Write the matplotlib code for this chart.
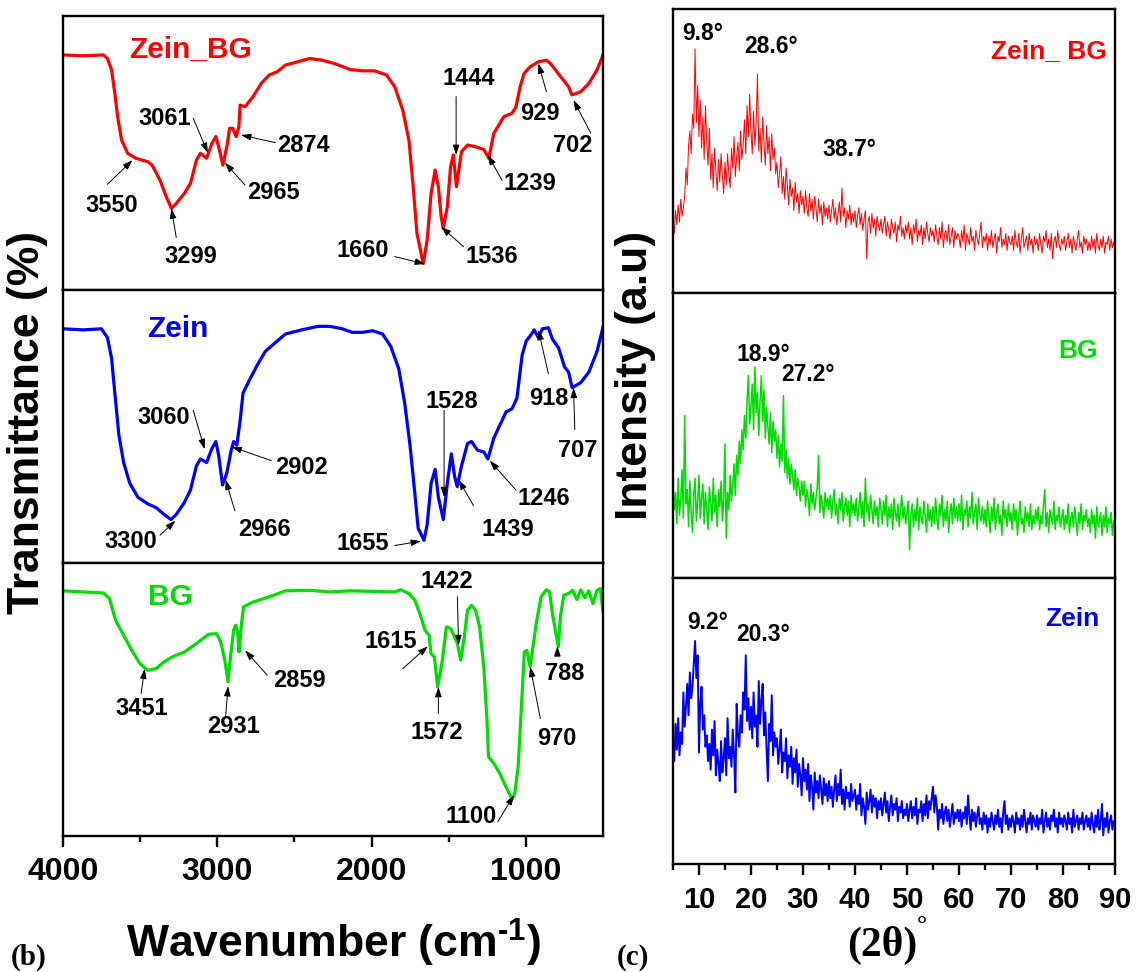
import numpy as np
import matplotlib
matplotlib.use('Agg')
import matplotlib.pyplot as plt
from matplotlib.ticker import FixedLocator

# ---------------- FTIR data (wavenumber cm-1, transmittance a.u.) ----------------
zbg_wn = [4000, 3870, 3738, 3712, 3685, 3664, 3646, 3620, 3581, 3528, 3449, 3423, 3371, 3331,
          3297, 3266, 3213, 3174, 3135, 3109, 3069, 3035, 3009, 2991, 2964, 2938, 2920, 2899,
          2878, 2860, 2852, 2820, 2768, 2715, 2663, 2610, 2558, 2479, 2401, 2322, 2243, 2139,
          2060, 1981, 1903, 1850, 1798, 1758, 1732, 1706, 1665, 1640, 1614, 1588, 1567, 1549,
          1536, 1509, 1488, 1470, 1450, 1417, 1378, 1326, 1273, 1240, 1208, 1169, 1142, 1090,
          1064, 1037, 1011, 972, 919, 867, 841, 775, 723, 702, 644, 592, 539, 500]
zbg_tr = [85.8, 85.5, 85.8, 84.5, 80.3, 71.8, 63.3, 54.7, 49.9, 48.1, 46.8, 45.6, 40.1, 34.1,
          29.8, 31.6, 35.3, 38.9, 47.4, 49.9, 48.1, 53.5, 56.0, 52.3, 45.6, 52.3, 59.0, 59.0,
          56.0, 59.6, 67.5, 66.9, 70.6, 75.4, 78.5, 79.7, 82.1, 83.3, 84.5, 83.9, 82.7, 80.5,
          80.0, 80.0, 78.5, 74.2, 65.7, 54.7, 38.9, 20.7, 9.7, 18.2, 35.3, 43.8, 37.7, 26.8,
          22.5, 30.4, 45.0, 49.3, 37.7, 50.5, 52.9, 52.3, 51.3, 48.1, 57.2, 60.8, 63.3, 64.5,
          66.9, 74.2, 79.1, 81.5, 83.3, 83.9, 82.7, 77.9, 74.2, 71.2, 72.4, 75.4, 80.3, 85.8]

zein_wn = [4000, 3869, 3751, 3712, 3685, 3664, 3638, 3607, 3567, 3515, 3449, 3397, 3345, 3300,
           3266, 3213, 3174, 3135, 3109, 3069, 3035, 3009, 2991, 2966, 2938, 2912, 2894, 2873,
           2852, 2833, 2794, 2742, 2689, 2637, 2558, 2453, 2348, 2270, 2191, 2125, 2060, 1994,
           1929, 1876, 1824, 1785, 1751, 1724, 1698, 1660, 1640, 1614, 1588, 1567, 1535, 1509,
           1483, 1462, 1445, 1417, 1378, 1352, 1313, 1273, 1246, 1208, 1182, 1155, 1129, 1090,
           1058, 1024, 998, 972, 946, 919, 893, 854, 828, 788, 749, 723, 700, 644, 592, 539, 500]
zein_tr = [85.8, 85.4, 85.8, 82.6, 75.0, 62.3, 47.0, 36.8, 29.2, 24.1, 21.6, 20.3, 17.8, 15.9,
           17.8, 22.2, 26.7, 35.6, 38.1, 36.8, 41.9, 44.5, 39.4, 28.6, 33.0, 40.7, 44.5, 43.2,
           52.1, 62.3, 66.7, 72.4, 77.5, 80.1, 83.9, 85.4, 86.7, 86.7, 85.8, 84.5, 84.5, 85.1,
           83.9, 79.4, 71.2, 58.4, 43.2, 28.0, 12.7, 8.3, 14.0, 29.2, 34.3, 24.1, 15.9, 29.2,
           40.0, 31.8, 28.0, 35.6, 43.8, 44.5, 41.3, 40.7, 38.1, 45.7, 48.9, 52.1, 55.3, 56.5,
           60.4, 76.2, 81.3, 83.2, 85.4, 82.6, 85.8, 86.2, 82.0, 78.8, 71.8, 69.9, 64.2, 66.1,
           69.9, 77.5, 86.4]

bg_wn = [4000, 3738, 3699, 3659, 3607, 3554, 3502, 3451, 3397, 3345, 3292, 3213, 3135, 3056,
         3004, 2978, 2951, 2931, 2912, 2894, 2880, 2868, 2859, 2845, 2830, 2768, 2663, 2558,
         2401, 2270, 2139, 1981, 1850, 1811, 1758, 1719, 1680, 1654, 1627, 1615, 1593, 1572,
         1541, 1515, 1488, 1462, 1444, 1422, 1399, 1378, 1352, 1326, 1300, 1273, 1252, 1242,
         1208, 1169, 1129, 1103, 1090, 1072, 1050, 1030, 1010, 994, 972, 954, 933, 901, 867,
         846, 828, 790, 775, 754, 723, 697, 670, 644, 618, 592, 565, 539, 518, 500]
bg_tr = [89.8, 89.0, 87.0, 79.0, 73.5, 68.0, 63.2, 60.7, 61.3, 63.8, 65.6, 67.4, 70.5, 73.9,
         74.1, 71.1, 64.4, 56.5, 66.8, 75.4, 77.2, 74.8, 67.4, 76.6, 83.9, 85.7, 87.6, 89.8,
         90.0, 89.4, 89.8, 89.6, 89.4, 90.2, 88.8, 86.3, 80.2, 75.4, 73.5, 66.8, 65.6, 54.6,
         64.4, 76.6, 76.0, 72.9, 70.5, 64.4, 72.9, 82.7, 84.5, 82.7, 76.6, 62.0, 42.4, 29.0,
         26.6, 22.9, 18.0, 15.0, 13.4, 15.6, 25.4, 46.1, 67.4, 68.0, 62.0, 69.3, 77.8, 87.6,
         90.2, 89.4, 81.5, 69.3, 80.9, 88.2, 88.8, 90.0, 86.6, 90.2, 87.3, 89.8, 85.1, 90.0,
         90.6, 82.1]

# peak labels: (label, tip_wn, tip_T, tail_wn, tail_T, text_wn, text_T)
zbg_peaks = [("3550", 3549, 47.4, 3712, 38.6, 3685, 31.0),
             ("3299", 3297, 29.8, 3266, 19.2, 3174, 12.2),
             ("3061", 3061, 50.1, 3156, 62.7, 3339, 62.7),
             ("2965", 2951, 46.5, 2820, 38.3, 2637, 35.5),
             ("2874", 2846, 56.6, 2624, 53.8, 2440, 52.9),
             ("1444", 1452, 49.3, 1452, 70.6, 1370, 77.3),
             ("1239", 1247, 49.3, 1155, 40.1, 972, 38.9),
             ("929", 919, 82.7, 867, 72.4, 906, 64.5),
             ("702", 691, 69.3, 579, 57.2, 697, 52.9),
             ("1660", 1654, 9.5, 1850, 12.2, 2055, 14.6),
             ("1536", 1549, 23.1, 1404, 15.8, 1221, 12.2)]
zein_peaks = [("3060", 3082, 41.7, 3156, 55.9, 3345, 53.4),
              ("2902", 2907, 42.6, 2650, 37.5, 2453, 34.9),
              ("2966", 2946, 30.5, 2886, 19.1, 2694, 12.1),
              ("3300", 3271, 15.5, 3371, 10.2, 3560, 7.9),
              ("1655", 1680, 8.0, 1850, 6.4, 2060, 7.0),
              ("1528", 1530, 24.1, 1530, 55.9, 1483, 59.1),
              ("1439", 1436, 30.5, 1339, 21.0, 1116, 12.1),
              ("1246", 1234, 37.5, 1064, 26.7, 885, 23.5),
              ("918", 919, 85.4, 854, 69.3, 854, 60.4),
              ("707", 691, 64.2, 683, 48.9, 665, 41.3)]
bg_peaks = [("3451", 3470, 61.3, 3494, 52.2, 3489, 46.7),
            ("2931", 2930, 54.9, 2946, 43.7, 2894, 40.0),
            ("2859", 2820, 68.0, 2676, 58.9, 2466, 56.8),
            ("1615", 1635, 69.5, 1798, 61.3, 1876, 71.1),
            ("1422", 1436, 69.9, 1444, 87.6, 1509, 93.4),
            ("1572", 1567, 54.6, 1567, 44.9, 1575, 37.8),
            ("1100", 1077, 15.0, 1182, 5.2, 1357, 7.1),
            ("970", 972, 62.0, 906, 43.0, 802, 35.7),
            ("788", 796, 69.5, 796, 66.2, 749, 59.5)]

# ---------------- XRD data (2theta 5..90, step 0.25, intensity a.u.) ----------------
xrd_zbg = [26, 21, 29, 24, 31, 25, 33, 27, 30, 34, 44, 38, 52, 57, 49, 63, 58, 86, 60, 73,
           55, 68, 51, 62, 47, 66, 53, 45, 58, 40, 49, 37, 51, 43, 36, 47, 39, 49, 41, 35,
           46, 38, 49, 42, 37, 51, 44, 55, 41, 48, 53, 43, 57, 47, 52, 61, 49, 66, 55, 70,
           57, 49, 64, 52, 60, 77, 50, 58, 46, 62, 53, 45, 59, 49, 55, 43, 56, 47, 51, 42,
           46, 37, 42, 48, 35, 41, 33, 44, 38, 31, 40, 34, 37, 29, 39, 32, 35, 28, 36, 31,
           34, 28, 36, 30, 27, 35, 29, 33, 26, 34, 30, 25, 33, 28, 31, 24, 32, 27, 30, 26,
           31, 25, 29, 33, 26, 30, 24, 28, 32, 25, 37, 27, 30, 23, 29, 26, 31, 24, 28, 25,
           29, 23, 27, 30, 24, 28, 22, 26, 29, 12, 25, 27, 21, 28, 23, 26, 20, 27, 24, 22,
           26, 21, 24, 27, 20, 25, 22, 19, 26, 23, 21, 25, 18, 24, 22, 27, 20, 23, 19, 24,
           21, 25, 19, 23, 17, 24, 21, 26, 18, 22, 20, 24, 17, 23, 19, 25, 21, 18, 23, 20,
           22, 18, 24, 20, 17, 23, 19, 25, 16, 21, 22, 18, 24, 17, 20, 23, 16, 22, 19, 21,
           20, 16, 22, 18, 24, 15, 21, 19, 17, 23, 18, 20, 15, 22, 19, 17, 21, 25, 16, 20,
           18, 21, 15, 20, 17, 22, 16, 19, 21, 14, 20, 18, 23, 16, 19, 17, 21, 15, 20, 18,
           17, 20, 15, 22, 18, 16, 21, 14, 19, 23, 16, 18, 20, 15, 21, 17, 19, 14, 20, 17,
           19, 15, 21, 17, 14, 20, 18, 22, 16, 19, 15, 21, 12, 18, 20, 16, 22, 17, 15, 19,
           17, 20, 15, 18, 21, 16, 19, 14, 20, 17, 15, 19, 22, 16, 18, 14, 20, 17, 19, 15,
           18, 15, 20, 16, 19, 14, 21, 17, 15, 19, 16, 20, 14, 18, 17, 20, 15, 19, 16, 18,
           17]
xrd_bg = [33, 24, 30, 19, 35, 22, 28, 38, 21, 57, 26, 31, 18, 34, 23, 16, 29, 35, 20, 27,
          36, 21, 28, 33, 19, 30, 24, 17, 32, 26, 20, 35, 23, 29, 18, 31, 25, 34, 20, 28,
          47, 14, 30, 24, 36, 27, 33, 40, 29, 43, 36, 48, 40, 52, 45, 57, 49, 62, 71, 54,
          60, 68, 52, 74, 58, 65, 50, 62, 71, 55, 66, 49, 60, 53, 47, 58, 44, 55, 48, 52,
          42, 50, 39, 47, 41, 64, 37, 45, 35, 42, 33, 40, 36, 31, 38, 29, 35, 32, 27, 34,
          29, 34, 25, 31, 28, 22, 33, 26, 30, 24, 28, 32, 43, 23, 29, 26, 21, 30, 25, 28,
          24, 29, 21, 27, 31, 22, 26, 19, 28, 24, 30, 20, 25, 28, 22, 27, 18, 29, 23, 26,
          22, 28, 20, 25, 30, 21, 27, 18, 35, 23, 26, 20, 29, 24, 19, 27, 22, 25, 18, 28,
          24, 19, 27, 22, 29, 18, 25, 21, 26, 17, 28, 23, 20, 26, 18, 24, 29, 21, 25, 19,
          23, 27, 10, 22, 26, 18, 24, 20, 28, 17, 25, 21, 19, 27, 22, 16, 26, 20, 24, 18,
          25, 19, 28, 21, 17, 26, 22, 29, 18, 24, 20, 27, 16, 23, 26, 19, 28, 21, 25, 20,
          26, 20, 29, 17, 24, 22, 27, 18, 25, 21, 30, 19, 23, 26, 17, 28, 22, 20, 25, 19,
          24, 18, 27, 21, 16, 25, 20, 28, 17, 23, 26, 19, 22, 15, 27, 21, 24, 18, 26, 20,
          23, 17, 26, 20, 24, 15, 22, 27, 19, 21, 16, 25, 20, 23, 18, 26, 17, 22, 19, 24,
          20, 25, 17, 22, 19, 26, 31, 18, 23, 16, 24, 21, 19, 27, 17, 22, 20, 25, 18, 21,
          24, 17, 22, 19, 26, 16, 21, 23, 18, 25, 20, 15, 23, 19, 26, 17, 22, 20, 24, 18,
          21, 16, 24, 19, 22, 14, 25, 18, 20, 23, 15, 22, 18, 25, 16, 21, 19, 23, 15, 20,
          17]
xrd_zein = [44, 36, 49, 40, 51, 38, 46, 42, 60, 48, 55, 63, 52, 67, 58, 62, 70, 78, 65, 73,
            39, 56, 62, 47, 52, 41, 45, 36, 42, 33, 47, 38, 50, 31, 40, 35, 29, 43, 32, 37,
            44, 31, 51, 37, 41, 34, 47, 38, 25, 56, 45, 41, 52, 46, 60, 54, 73, 50, 58, 47,
            55, 44, 60, 48, 52, 41, 64, 49, 57, 63, 45, 53, 40, 29, 49, 43, 59, 38, 46, 41,
            44, 35, 40, 47, 32, 39, 36, 44, 30, 38, 34, 41, 28, 37, 32, 40, 27, 35, 31, 24,
            37, 29, 33, 26, 35, 22, 31, 27, 19, 32, 25, 29, 23, 31, 26, 21, 30, 24, 28, 22,
            29, 23, 27, 20, 26, 31, 22, 28, 24, 33, 21, 26, 19, 27, 23, 25, 20, 28, 22, 24,
            26, 19, 24, 21, 28, 17, 23, 20, 14, 25, 19, 22, 26, 18, 24, 20, 23, 16, 22, 19,
            23, 17, 21, 25, 18, 22, 15, 20, 24, 17, 21, 19, 23, 15, 20, 18, 22, 16, 19, 17,
            21, 15, 19, 22, 16, 20, 17, 23, 14, 19, 18, 22, 15, 21, 17, 24, 16, 22, 19, 23,
            27, 18, 24, 20, 12, 19, 16, 21, 14, 18, 20, 15, 19, 13, 17, 21, 14, 18, 16, 19,
            15, 19, 13, 18, 16, 20, 14, 24, 17, 12, 19, 15, 18, 13, 17, 20, 14, 16, 12, 18,
            14, 17, 11, 16, 13, 18, 15, 12, 17, 14, 19, 13, 16, 11, 18, 22, 14, 17, 12, 16,
            13, 17, 15, 11, 18, 14, 16, 12, 17, 13, 19, 15, 11, 16, 14, 18, 12, 17, 15, 13,
            17, 12, 16, 14, 19, 11, 15, 18, 13, 16, 12, 17, 15, 19, 13, 16, 11, 18, 14, 16,
            13, 17, 15, 12, 18, 14, 16, 11, 19, 13, 15, 17, 12, 16, 14, 18, 12, 15, 17, 13,
            16, 12, 18, 14, 11, 17, 13, 19, 12, 15, 21, 10, 16, 13, 18, 11, 15, 17, 12, 15,
            14]
zbg_xrd_labels = [("9.8°", 10.8, 91.5), ("28.6°", 23.9, 86.9), ("38.7°", 39.0, 50.5)]
bg_xrd_labels = [("18.9°", 22.3, 78.4), ("27.2°", 31.0, 71.3)]
zein_xrd_labels = [("9.2°", 11.7, 84.5), ("20.3°", 22.3, 80.4)]

# ---------------- style ----------------
RED, BLUE, GREEN = '#FF0000', '#0000FF', '#00DD00'
SANS = ['Liberation Sans', 'DejaVu Sans']
SERIF = ['Liberation Serif', 'DejaVu Serif']
plt.rcParams['font.family'] = SANS
plt.rcParams['mathtext.fontset'] = 'custom'
plt.rcParams['mathtext.rm'] = 'Liberation Sans:bold'
plt.rcParams['mathtext.default'] = 'rm'

fig = plt.figure(figsize=(11.41, 9.72), dpi=100)


def style_axes(ax, bottom):
    for s in ax.spines.values():
        s.set_linewidth(1.7)
    ax.set_yticks([])
    if not bottom:
        ax.tick_params(axis='x', which='both', bottom=False, labelbottom=False)


def ftir_panel(rect, wn, tr, color, name, peaks, bottom):
    ax = fig.add_axes(rect)
    ax.plot(wn, tr, color=color, lw=2.3, solid_joinstyle='round')
    ax.set_xlim(4000, 500)
    ax.set_ylim(0, 100)
    style_axes(ax, bottom)
    ax.text(name[1], name[2], name[0], color=color, fontsize=21.5, fontweight='bold',
            ha='center', va='center')
    for lab, tw, tt, aw, at, xw, xt in peaks:
        ax.annotate('', xy=(tw, tt), xytext=(aw, at),
                    arrowprops=dict(arrowstyle='-|>,head_length=0.6,head_width=0.2',
                                    color='black', lw=0.7, shrinkA=0, shrinkB=0,
                                    mutation_scale=10))
        ax.text(xw, xt, lab, fontsize=17, fontweight='bold', ha='center', va='center')
    return ax


FL, FW = 0.0552, 0.4733
ax1 = ftir_panel([FL, 0.7016, FW, 0.2819], zbg_wn, zbg_tr, RED,
                 ("Zein_BG", 3174, 87.6), zbg_peaks, False)
ax2 = ftir_panel([FL, 0.4208, FW, 0.2808], zein_wn, zein_tr, BLUE,
                 ("Zein", 3253, 85.8), zein_peaks, False)
ax3 = ftir_panel([FL, 0.1399, FW, 0.2809], bg_wn, bg_tr, GREEN,
                 ("BG", 3305, 87.6), bg_peaks, True)
ax3.xaxis.set_major_locator(FixedLocator([4000, 3000, 2000, 1000]))
ax3.xaxis.set_minor_locator(FixedLocator([3500, 2500, 1500]))
ax3.tick_params(axis='x', which='major', direction='out', length=8, width=1.7, pad=7,
                labelsize=23)
ax3.tick_params(axis='x', which='minor', direction='out', length=4, width=1.7)
for t in ax3.get_xticklabels():
    t.set_fontweight('bold')


def xrd_panel(rect, y, color, lw, name, labels, bottom):
    ax = fig.add_axes(rect)
    tt = np.linspace(5, 90, len(y))
    ax.plot(tt, y, color=color, lw=lw)
    ax.set_xlim(5, 90)
    ax.set_ylim(0, 100)
    style_axes(ax, bottom)
    ax.text(name[1], name[2], name[0], color=color, fontsize=19, fontweight='bold',
            ha='center', va='center')
    for lab, x, yy in labels:
        ax.text(x, yy, lab, fontsize=16.5, fontweight='bold', ha='center', va='center')
    return ax


XL, XW = 0.5898, 0.3874
bx1 = xrd_panel([XL, 0.6986, XW, 0.2921], xrd_zbg, RED, 0.7,
                ("Zein_ BG", 77.2, 85.1), zbg_xrd_labels, False)
bx2 = xrd_panel([XL, 0.4053, XW, 0.2933], xrd_bg, GREEN, 1.1,
                ("BG", 82.9, 79.5), bg_xrd_labels, False)
bx3 = xrd_panel([XL, 0.1111, XW, 0.2942], xrd_zein, BLUE, 1.4,
                ("Zein", 81.8, 85.7), zein_xrd_labels, True)
bx3.xaxis.set_major_locator(FixedLocator(list(range(10, 91, 10))))
bx3.xaxis.set_minor_locator(FixedLocator(list(range(5, 90, 10))))
bx3.tick_params(axis='x', which='major', direction='out', length=8, width=1.7, pad=8,
                labelsize=21)
bx3.tick_params(axis='x', which='minor', direction='out', length=4, width=1.7)
for t in bx3.get_xticklabels():
    t.set_fontweight('bold')

# axis titles and panel letters
fig.text(0.292, 0.0298, 'Wavenumber (cm$^{\u2010 1}$)', fontsize=32, fontweight='bold',
         ha='center', va='center')
fig.text(0.024, 0.565, 'Transmittance (%)', fontsize=32, fontweight='bold', rotation=90,
         ha='center', va='center')
fig.text(0.557, 0.614, 'Intensity (a.u)', fontsize=32, fontweight='bold', rotation=90,
         ha='center', va='center')
fig.text(0.773, 0.027, '(2θ)', fontsize=30, fontweight='bold', ha='center', va='center',
         family=SERIF)
fig.text(0.808, 0.048, '°', fontsize=18, fontweight='bold', ha='center', va='center',
         family=SERIF)
fig.text(0.025, 0.0154, '(b)', fontsize=21, fontweight='bold', ha='center', va='center',
         family=SERIF)
fig.text(0.555, 0.0154, '(c)', fontsize=21, fontweight='bold', ha='center', va='center',
         family=SERIF)

fig.savefig('out.png', dpi=100)
